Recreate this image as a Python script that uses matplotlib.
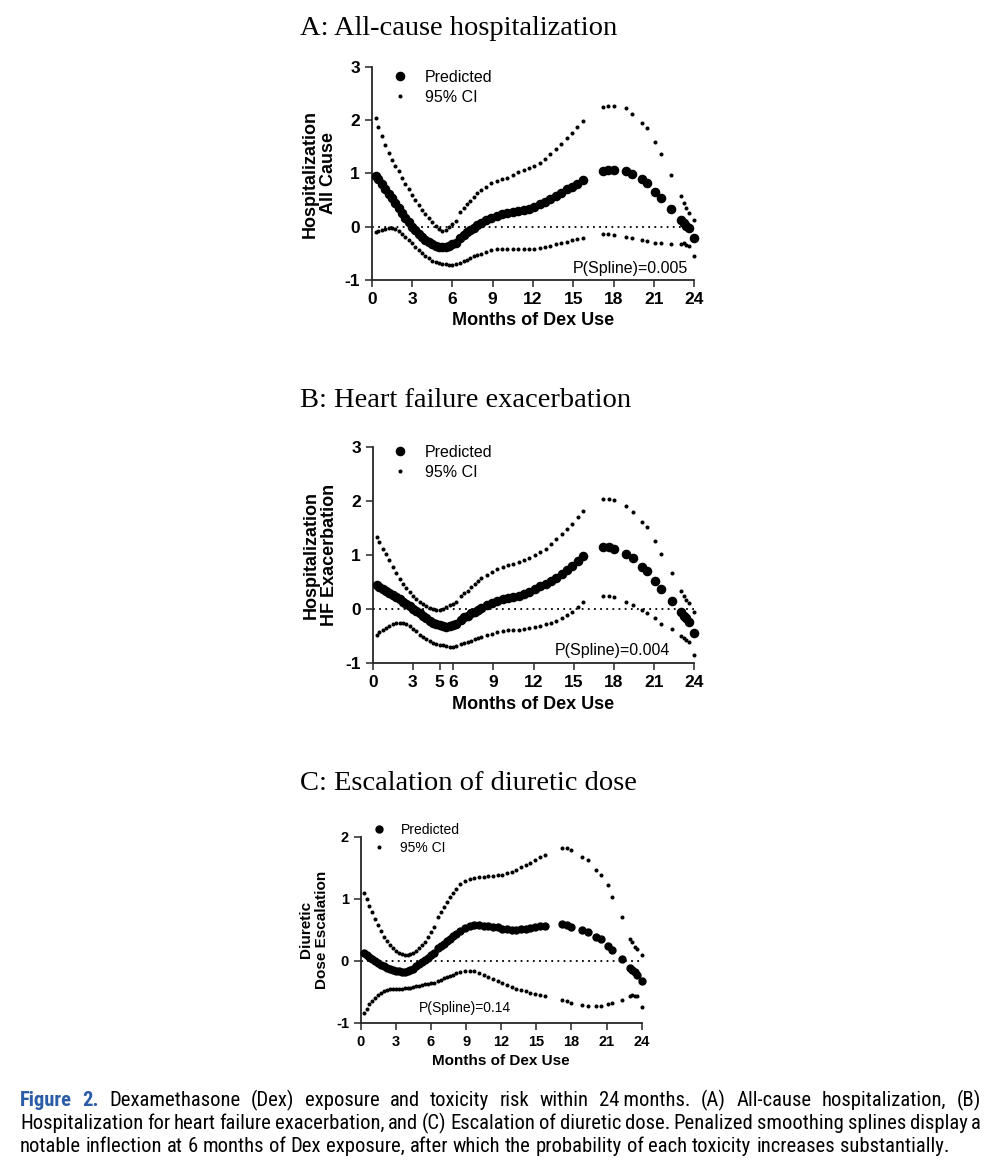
import matplotlib
matplotlib.use("Agg")
import matplotlib.pyplot as plt
from matplotlib import font_manager

# follow-up time points (months of Dex use) shared by the three panels
months = [0.3, 0.5, 0.75, 1.0, 1.25, 1.5, 1.75, 2.0, 2.25, 2.5, 2.75, 3.0, 3.25,
          3.5, 3.75, 4.0, 4.25, 4.5, 4.75, 5.0, 5.25, 5.5, 5.75, 6.0, 6.25,
          6.6, 6.85, 7.1, 7.35, 7.6, 7.85, 8.1, 8.5, 8.9, 9.3, 9.7, 10.1, 10.5,
          10.9, 11.3, 11.7, 12.1, 12.5, 12.9, 13.3, 13.7, 14.1, 14.5, 14.9,
          15.3, 15.7,
          17.2, 17.6, 18.0, 18.9, 19.4, 20.1, 20.5, 21.1, 21.5, 22.3, 23.0,
          23.2, 23.4, 23.6, 24.0]

# A: all-cause hospitalization
a_pred = [0.96, 0.89, 0.80, 0.71, 0.62, 0.53, 0.44, 0.35, 0.26, 0.17, 0.08, 0.00, -0.07,
          -0.14, -0.20, -0.25, -0.29, -0.33, -0.36, -0.38, -0.39, -0.38, -0.36, -0.33, -0.30,
          -0.22, -0.16, -0.11, -0.06, -0.02, 0.03, 0.07, 0.12, 0.17, 0.20, 0.23, 0.25, 0.27,
          0.29, 0.31, 0.34, 0.37, 0.42, 0.47, 0.52, 0.58, 0.64, 0.70, 0.75, 0.81, 0.87,
          1.05, 1.06, 1.06, 1.04, 0.99, 0.89, 0.83, 0.66, 0.53, 0.33, 0.13, 0.07, 0.02, -0.02, -0.21]
a_upper = [2.04, 1.88, 1.70, 1.54, 1.39, 1.26, 1.15, 1.04, 0.92, 0.80, 0.70, 0.60, 0.50,
           0.41, 0.32, 0.23, 0.16, 0.09, 0.02, -0.05, -0.08, -0.06, -0.01, 0.05, 0.11,
           0.28, 0.35, 0.42, 0.49, 0.56, 0.63, 0.68, 0.75, 0.82, 0.86, 0.89, 0.92, 0.97,
           1.02, 1.06, 1.10, 1.14, 1.20, 1.27, 1.36, 1.46, 1.56, 1.66, 1.76, 1.87, 1.98,
           2.25, 2.28, 2.28, 2.23, 2.12, 1.95, 1.85, 1.59, 1.36, 0.97, 0.57, 0.45, 0.35, 0.25, 0.13]
a_lower = [-0.11, -0.08, -0.06, -0.04, -0.03, -0.03, -0.05, -0.08, -0.13, -0.19, -0.25, -0.31, -0.38,
           -0.44, -0.50, -0.55, -0.60, -0.64, -0.67, -0.69, -0.70, -0.71, -0.72, -0.72, -0.71,
           -0.68, -0.65, -0.62, -0.59, -0.56, -0.53, -0.51, -0.48, -0.45, -0.43, -0.42, -0.42, -0.43,
           -0.43, -0.43, -0.42, -0.42, -0.40, -0.38, -0.36, -0.33, -0.31, -0.29, -0.26, -0.24, -0.22,
           -0.13, -0.13, -0.15, -0.19, -0.22, -0.25, -0.27, -0.30, -0.31, -0.33, -0.32, -0.31, -0.34, -0.36, -0.55]

# B: heart failure exacerbation
b_pred = [0.44, 0.41, 0.38, 0.34, 0.30, 0.26, 0.22, 0.18, 0.14, 0.10, 0.05, 0.01, -0.04,
          -0.08, -0.13, -0.17, -0.21, -0.25, -0.28, -0.30, -0.32, -0.33, -0.32, -0.30, -0.27,
          -0.20, -0.15, -0.12, -0.08, -0.05, -0.01, 0.02, 0.07, 0.12, 0.15, 0.18, 0.21, 0.23,
          0.25, 0.28, 0.32, 0.37, 0.42, 0.47, 0.52, 0.58, 0.64, 0.72, 0.80, 0.89, 0.98,
          1.14, 1.14, 1.12, 1.02, 0.94, 0.78, 0.71, 0.52, 0.38, 0.15, -0.06, -0.12, -0.17, -0.24, -0.44]
b_upper = [1.34, 1.24, 1.12, 1.02, 0.90, 0.78, 0.67, 0.56, 0.47, 0.39, 0.32, 0.25, 0.19,
           0.13, 0.09, 0.06, 0.03, 0.01, -0.01, -0.01, 0.01, 0.04, 0.07, 0.10, 0.14,
           0.24, 0.29, 0.34, 0.40, 0.46, 0.52, 0.57, 0.63, 0.69, 0.74, 0.78, 0.81, 0.84,
           0.87, 0.91, 0.95, 1.00, 1.06, 1.12, 1.20, 1.29, 1.38, 1.48, 1.58, 1.70, 1.82,
           2.04, 2.04, 2.02, 1.91, 1.80, 1.61, 1.51, 1.25, 1.02, 0.67, 0.33, 0.25, 0.17, 0.11, -0.06]
b_lower = [-0.47, -0.43, -0.39, -0.35, -0.31, -0.28, -0.26, -0.25, -0.25, -0.27, -0.31, -0.36, -0.41,
           -0.47, -0.52, -0.56, -0.59, -0.62, -0.64, -0.66, -0.67, -0.68, -0.69, -0.69, -0.68,
           -0.65, -0.63, -0.61, -0.58, -0.56, -0.54, -0.52, -0.48, -0.45, -0.43, -0.41, -0.39, -0.38,
           -0.38, -0.37, -0.35, -0.33, -0.31, -0.28, -0.25, -0.21, -0.16, -0.11, -0.05, 0.04, 0.13,
           0.25, 0.25, 0.22, 0.13, 0.08, -0.01, -0.07, -0.17, -0.27, -0.36, -0.50, -0.54, -0.57, -0.60, -0.84]

# C: escalation of diuretic dose
c_pred = [0.12, 0.10, 0.06, 0.03, 0.00, -0.03, -0.06, -0.09, -0.11, -0.13, -0.15, -0.16, -0.17,
          -0.18, -0.18, -0.17, -0.15, -0.13, -0.09, -0.05, -0.02, 0.01, 0.05, 0.09, 0.13,
          0.20, 0.24, 0.28, 0.32, 0.36, 0.40, 0.43, 0.48, 0.53, 0.56, 0.58, 0.58, 0.57,
          0.56, 0.55, 0.54, 0.52, 0.51, 0.50, 0.50, 0.51, 0.52, 0.53, 0.54, 0.56, 0.57,
          0.59, 0.58, 0.55, 0.49, 0.46, 0.38, 0.35, 0.24, 0.18, 0.03, -0.11, -0.14, -0.18, -0.22, -0.32]
c_upper = [1.09, 0.99, 0.88, 0.79, 0.68, 0.58, 0.48, 0.39, 0.32, 0.26, 0.21, 0.16, 0.13,
           0.11, 0.10, 0.10, 0.11, 0.13, 0.16, 0.20, 0.25, 0.31, 0.38, 0.46, 0.54,
           0.70, 0.79, 0.87, 0.95, 1.03, 1.10, 1.16, 1.24, 1.29, 1.32, 1.34, 1.35, 1.35,
           1.36, 1.37, 1.38, 1.39, 1.41, 1.43, 1.47, 1.51, 1.55, 1.58, 1.62, 1.67, 1.71,
           1.81, 1.81, 1.79, 1.68, 1.62, 1.46, 1.38, 1.22, 1.03, 0.70, 0.36, 0.31, 0.23, 0.19, 0.10]
c_lower = [-0.84, -0.78, -0.70, -0.65, -0.60, -0.55, -0.51, -0.48, -0.47, -0.46, -0.45, -0.45, -0.45,
           -0.45, -0.44, -0.44, -0.43, -0.42, -0.41, -0.40, -0.39, -0.38, -0.37, -0.36, -0.35,
           -0.32, -0.30, -0.28, -0.26, -0.24, -0.22, -0.20, -0.18, -0.16, -0.16, -0.17, -0.19, -0.22,
           -0.26, -0.29, -0.33, -0.36, -0.39, -0.42, -0.45, -0.47, -0.49, -0.51, -0.53, -0.55, -0.56,
           -0.63, -0.65, -0.67, -0.71, -0.72, -0.73, -0.72, -0.70, -0.67, -0.63, -0.56, -0.55, -0.56, -0.57, -0.75]

titles = ["A: All-cause hospitalization", "B: Heart failure exacerbation",
          "C: Escalation of diuretic dose"]
ylabels = ["Hospitalization\nAll Cause", "Hospitalization\nHF Exacerbation",
           "Diuretic\nDose Escalation"]
p_texts = ["P(Spline)=0.005", "P(Spline)=0.004", "P(Spline)=0.14"]
xticks_std = [0, 3, 6, 9, 12, 15, 18, 21, 24]
xticks_b = [0, 3, 5, 6, 9, 12, 15, 18, 21, 24]

caption = [
    "Figure 2. Dexamethasone (Dex) exposure and toxicity risk within 24\u2009months. (A) All-cause hospitalization, (B)",
    "Hospitalization for heart failure exacerbation, and (C) Escalation of diuretic dose. Penalized smoothing splines display a",
    "notable inflection at 6 months of Dex exposure, after which the probability of each toxicity increases substantially.",
]

W, H = 1000, 1172
plt.rcParams['font.family'] = 'Liberation Sans'
plt.rcParams['axes.unicode_minus'] = False

fig = plt.figure(figsize=(W / 100, H / 100), dpi=100)
fig.patch.set_facecolor('white')


def add_ax(left, right, top, bottom):
    return fig.add_axes([left / W, 1 - bottom / H, (right - left) / W, (bottom - top) / H])


def draw_panel(ax, pred, upper, lower, ylabel, yticks, xticks, ptext, ppos, pha,
               leg_xy, big, fs_tick, fs_lab, fs_txt):
    ax.axhline(0, color='black', lw=1.3, ls=(0, (1, 2.4)), zorder=1)
    ax.plot(months, upper, 'o', ls='none', ms=1.9, color='black', clip_on=False,
            label='95% CI', zorder=2)
    ax.plot(months, lower, 'o', ls='none', ms=1.9, color='black', clip_on=False, zorder=2)
    ax.plot(months, pred, 'o', ls='none', ms=big, color='black', clip_on=False,
            label='Predicted', zorder=3)
    ax.set_xlim(0, 24)
    ax.set_ylim(yticks[0], yticks[-1])
    ax.set_xticks(xticks)
    ax.set_yticks(yticks)
    for s in ['top', 'right']:
        ax.spines[s].set_visible(False)
    for s in ['left', 'bottom']:
        ax.spines[s].set_linewidth(1.3)
        ax.spines[s].set_color('#262626')
    ax.tick_params(direction='out', length=5, width=1.1, color='#262626',
                   labelsize=fs_tick, pad=3.5)
    for lab in ax.get_xticklabels() + ax.get_yticklabels():
        lab.set_fontweight('bold')
    ax.set_xlabel('Months of Dex Use', fontsize=fs_lab, fontweight='bold', labelpad=4)
    ax.set_ylabel(ylabel, fontsize=fs_lab, fontweight='bold', linespacing=1.15, labelpad=5)
    ax.text(ppos[0], ppos[1], ptext, transform=ax.transAxes, ha=pha, va='center',
            fontsize=fs_txt)
    h, l = ax.get_legend_handles_labels()
    ax.legend(h[::-1], l[::-1], loc='upper left',
              bbox_to_anchor=(leg_xy[0] / W, 1 - leg_xy[1] / H),
              bbox_transform=fig.transFigure, frameon=False, borderpad=0,
              borderaxespad=0, handlelength=1.0, handletextpad=1.05,
              labelspacing=0.3, fontsize=fs_txt)


ax_a = add_ax(371.7, 694.3, 67.3, 279.7)
draw_panel(ax_a, a_pred, a_upper, a_lower, ylabels[0], [-1, 0, 1, 2, 3], xticks_std,
           p_texts[0], (0.98, 0.055), 'right', (392, 70), 5.9, 12.5, 13, 11.5)

ax_b = add_ax(372.7, 694.3, 446.7, 663.3)
draw_panel(ax_b, b_pred, b_upper, b_lower, ylabels[1], [-1, 0, 1, 2, 3], xticks_b,
           p_texts[1], (0.924, 0.061), 'right', (392, 445), 5.9, 12.5, 13, 11.5)

ax_c = add_ax(360.7, 641.7, 836.7, 1023)
draw_panel(ax_c, c_pred, c_upper, c_lower, ylabels[2], [-1, 0, 1, 2], xticks_std,
           p_texts[2], (0.207, 0.08), 'left', (372, 823), 5.0, 10.5, 11, 10)

for t, yb in zip(titles, [35, 407, 790]):
    fig.text(300 / W, 1 - yb / H, t, family='Liberation Serif', fontsize=20.5,
             ha='left', va='baseline')

# caption, justified word by word
names = {f.name for f in font_manager.fontManager.ttflist}
cap_font = 'DejaVu Sans'
for n in ['Liberation Sans Narrow', 'Roboto Condensed', 'Open Sans Condensed']:
    if n in names:
        cap_font = n
        break

r = fig.canvas.get_renderer()


def width_of(s, size, weight='normal'):
    t = fig.text(0, 0, s, fontsize=size, family=cap_font, fontstretch='condensed',
                 weight=weight)
    w = t.get_window_extent(r).width
    t.remove()
    return w


cap_size = 12 * 928 / width_of(caption[2], 12)
space = width_of('a a', cap_size) - width_of('aa', cap_size)
blue = '#2b5ca8'
x0, x1 = 20, 981
for i, (line, yb) in enumerate(zip(caption, [1106, 1129, 1152])):
    words = line.split(' ')
    styles = [(blue, 'bold') if (i == 0 and k < 2) else ('black', 'normal')
              for k in range(len(words))]
    widths = [width_of(w, cap_size, st[1]) for w, st in zip(words, styles)]
    if i < 2:
        gap = (x1 - x0 - sum(widths)) / (len(words) - 1)
    else:
        gap = space
    x = x0
    for w, st, wd in zip(words, styles, widths):
        fig.text(x / W, 1 - yb / H, w, fontsize=cap_size, family=cap_font,
                 fontstretch='condensed', color=st[0], weight=st[1], va='baseline')
        x += wd + gap

fig.savefig('out.png', dpi=100, facecolor='white')
